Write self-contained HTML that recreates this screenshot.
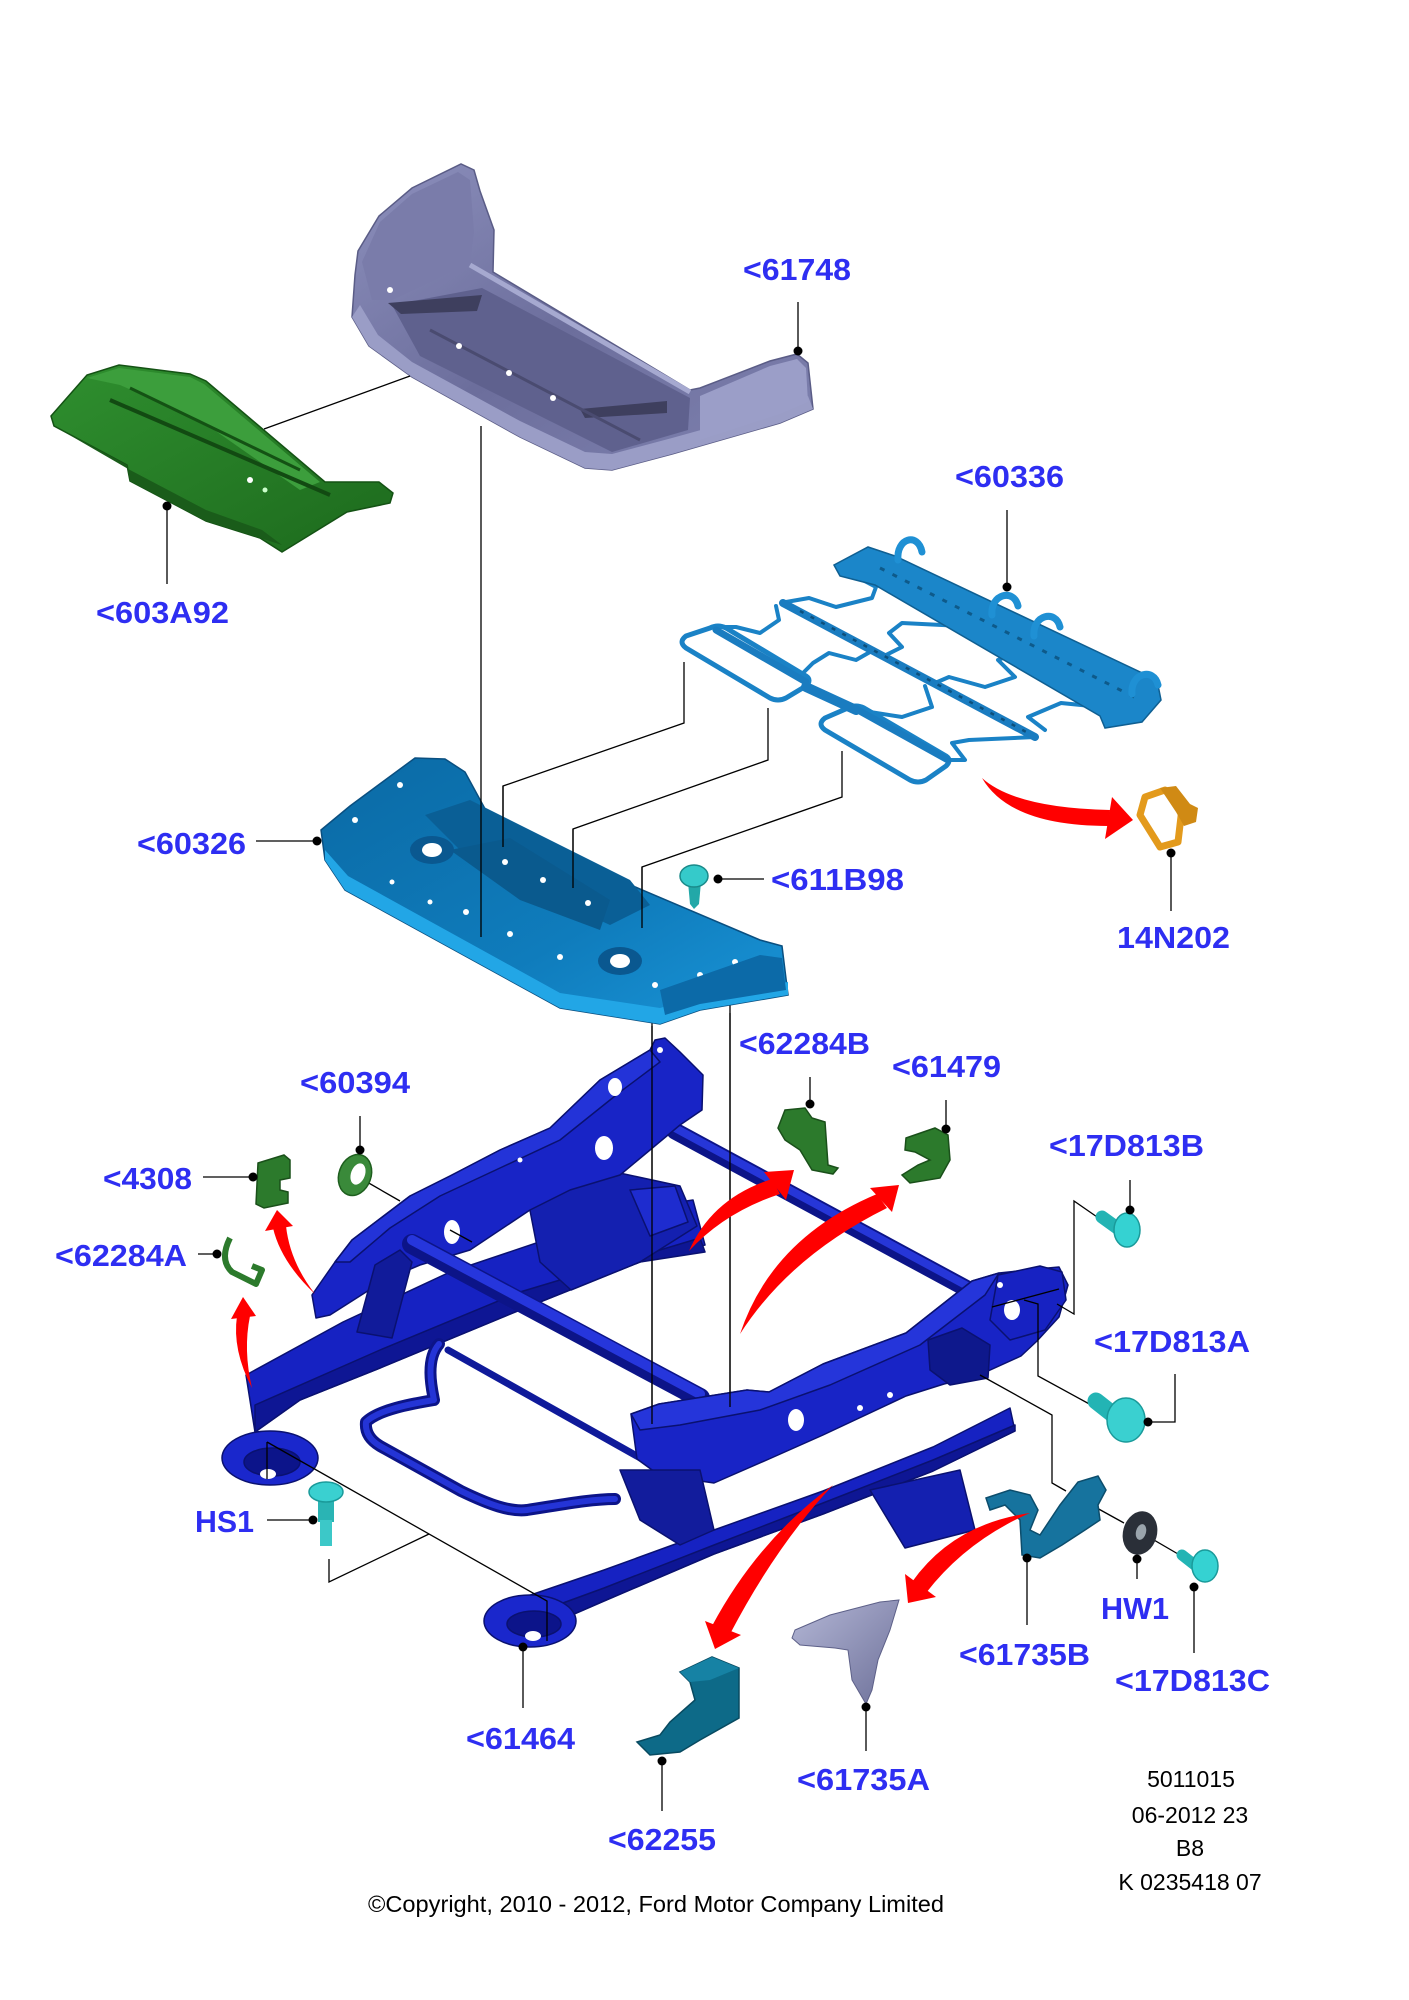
<!DOCTYPE html>
<html>
<head>
<meta charset="utf-8">
<style>
html,body{margin:0;padding:0;background:#fff;}
svg{display:block;}
.lb{font-family:"Liberation Sans",Arial,sans-serif;font-weight:bold;font-size:31px;fill:#2e2ef2;}
.tx{font-family:"Liberation Sans",Arial,sans-serif;font-size:23px;fill:#000;}
.ln{stroke:#000;stroke-width:1.3;fill:none;}
</style>
</head>
<body>
<svg width="1409" height="2000" viewBox="0 0 1409 2000" xmlns="http://www.w3.org/2000/svg">
<defs>
<linearGradient id="cush" x1="0" y1="0" x2="1" y2="1">
<stop offset="0" stop-color="#8d90bd"/><stop offset="0.5" stop-color="#6c6e9c"/><stop offset="1" stop-color="#7f82b0"/>
</linearGradient>
<linearGradient id="pan" x1="0" y1="0" x2="1" y2="1">
<stop offset="0" stop-color="#0b6aa5"/><stop offset="0.6" stop-color="#0f7cbc"/><stop offset="1" stop-color="#1a95d8"/>
</linearGradient>
<linearGradient id="grn" x1="0" y1="0" x2="1" y2="1">
<stop offset="0" stop-color="#2f8f2f"/><stop offset="1" stop-color="#1d6a1d"/>
</linearGradient>
<linearGradient id="gry" x1="0" y1="0" x2="1" y2="1">
<stop offset="0" stop-color="#b4b7d6"/><stop offset="1" stop-color="#6d7099"/>
</linearGradient>
</defs>
<rect width="1409" height="2000" fill="#fff"/>

<!-- ===== Seat cushion 61748 ===== -->
<polygon fill="url(#cush)" stroke="#5a5c86" stroke-width="1.5" points="355,275 358,251 379,216 412,188 461,164 474,170 480,191 494,230 493,272 690,390 700,388 770,361 797,354 808,363 813,409 780,423 672,454 612,470 585,468 520,437 412,377 369,346 352,317"/>
<polygon fill="#7a7caa" points="362,262 380,222 412,194 458,172 470,180 474,232 470,262 430,282 392,300 372,300"/>
<polygon fill="#5f618e" points="392,305 482,288 690,398 688,430 612,452 420,356"/>
<polygon fill="#9a9dc6" points="352,317 369,346 412,377 520,437 585,468 612,470 672,454 780,423 813,409 808,396 780,408 672,438 612,454 585,452 520,421 412,362 378,335 360,305"/>
<polygon fill="#9b9ec8" points="700,396 770,366 797,359 806,368 808,402 780,414 700,440"/>
<polygon fill="#3e3f5e" points="388,303 482,295 477,311 401,314"/>
<polygon fill="#3e3f5e" points="580,409 667,401 667,413 585,418"/>
<line x1="470" y1="265" x2="690" y2="392" stroke="#a6a9d0" stroke-width="5"/>
<line x1="430" y1="330" x2="640" y2="440" stroke="#4a4b70" stroke-width="3"/>
<circle cx="459" cy="346" r="3" fill="#fff"/><circle cx="509" cy="373" r="3" fill="#fff"/><circle cx="553" cy="398" r="3" fill="#fff"/><circle cx="390" cy="290" r="3" fill="#fff"/>

<!-- ===== Green 603A92 ===== -->
<polygon fill="url(#grn)" stroke="#145214" stroke-width="1.5" points="51,416 87,375 119,365 190,374 206,381 325,482 379,482 393,493 390,503 347,512 282,552 260,538 206,521 130,481 127,465 54,426"/>
<polygon fill="#3c9e3c" points="87,378 119,368 190,377 204,384 320,482 300,490 200,420 120,385"/>
<polygon fill="#1a5c1a" points="54,426 130,470 206,510 262,530 282,545 260,538 206,521 130,481 127,465"/>
<line x1="110" y1="400" x2="330" y2="495" stroke="#124a12" stroke-width="4"/>
<line x1="130" y1="388" x2="300" y2="470" stroke="#145214" stroke-width="3"/>
<circle cx="250" cy="480" r="3" fill="#fff"/><circle cx="265" cy="490" r="2.5" fill="#cfc"/>

<!-- ===== Leader lines top ===== -->
<line class="ln" x1="798" y1="302" x2="798" y2="351"/><circle cx="798" cy="351" r="4.5"/>
<line class="ln" x1="264" y1="429" x2="410" y2="376"/>
<line class="ln" x1="167" y1="506" x2="167" y2="584"/><circle cx="167" cy="506" r="4.5"/>
<line class="ln" x1="1007" y1="510" x2="1007" y2="587"/><circle cx="1007" cy="587" r="4.5"/>
<polyline class="ln" points="684,662 684,723 503,786 503,847"/>
<polyline class="ln" points="768,708 768,760 573,829 573,888"/>
<polyline class="ln" points="842,751 842,797 642,867 642,928"/>
<polyline class="ln" points="696,914 696,967 652,977 652,1424"/>
<line class="ln" x1="730" y1="1000" x2="730" y2="1407"/>

<!-- ===== Mesh 60336 ===== -->
<g fill="none" stroke="#1a82c6" stroke-width="4" stroke-linejoin="round" stroke-linecap="round">
<polyline points="859,578 876,587 872,598 836,607 809,598 786,602"/>
<polyline points="776,606 779,620 760,633 736,627 720,627"/>
<polyline points="982,627 902,623 889,633 902,647 882,657"/>
<polyline points="1015,653 998,660 1015,677 985,687 949,677 935,683"/>
<polyline points="800,676 813,663 829,653 856,660 870,652"/>
<polyline points="925,686 932,707 902,717 870,712"/>
<polyline points="1101,707 1061,703 1028,717 1045,730"/>
<polyline points="1035,737 969,740 952,743 965,760 949,760"/>
<path d="M686,636 Q678,642 686,648 L770,698 Q778,702 786,698 L806,686 Q812,680 806,676 L726,628 Q718,624 710,628 Z" stroke-width="5"/>
<path d="M825,718 Q817,724 825,730 L910,780 Q918,784 926,780 L946,766 Q952,760 946,756 L864,708 Q856,704 848,708 Z" stroke-width="5"/>
</g>
<g stroke="#1a7cc0" stroke-linecap="round">
<line x1="783" y1="603" x2="1035" y2="737" stroke-width="8"/>
<line x1="716" y1="630" x2="806" y2="682" stroke-width="7"/>
<line x1="856" y1="709" x2="948" y2="760" stroke-width="7"/>
<line x1="806" y1="687" x2="856" y2="710" stroke-width="10"/>
</g>
<polygon fill="#1b86c9" stroke="#0f5f92" stroke-width="1.5" points="834,565 868,547 895,556 1157,680 1161,700 1142,722 1105,728 1100,716 875,585 840,576"/>
<line x1="880" y1="568" x2="1140" y2="700" stroke="#0e5a8a" stroke-width="3" stroke-dasharray="5,9"/>
<line x1="800" y1="611" x2="1030" y2="734" stroke="#0c4f7c" stroke-width="2.5" stroke-dasharray="4,8"/>
<g fill="none" stroke="#1f90d4" stroke-width="7" stroke-linecap="round">
<path d="M898,560 C896,538 918,532 922,552"/>
<path d="M992,615 C990,594 1014,588 1018,606"/>
<path d="M1034,636 C1032,615 1056,609 1060,627"/>
<path d="M1132,694 C1130,673 1154,667 1158,685"/>
</g>

<!-- ===== 14N202 clip ===== -->
<g fill="none" stroke="#e39a1c" stroke-width="7" stroke-linejoin="round">
<path d="M1145,797 L1165,790 L1182,808 L1178,842 L1160,847 L1140,815 Z"/>
</g>
<polygon fill="#d08a14" points="1160,788 1176,786 1190,804 1198,808 1196,822 1184,826 1176,812"/>
<line class="ln" x1="1171" y1="853" x2="1171" y2="911"/><circle cx="1171" cy="853" r="4.5"/>

<!-- ===== Pan 60326 ===== -->
<polygon fill="url(#pan)" stroke="#0a4f80" stroke-width="1.5" points="321,830 350,806 415,758 445,759 465,772 490,818 520,838 760,940 782,946 788,995 700,1010 660,1024 560,1008 345,890 325,860"/>
<polygon fill="#22a6e6" points="345,890 560,1008 660,1024 700,1010 788,995 788,982 700,996 660,1008 560,993 348,876 325,850 325,860"/>
<polygon fill="#0a5f96" points="425,815 470,800 630,880 650,905 610,925 470,860"/>
<polygon fill="#0a5a8e" points="450,850 510,838 610,900 600,930 520,900"/>
<ellipse cx="432" cy="850" rx="22" ry="14" fill="#0a5890"/><ellipse cx="432" cy="850" rx="10" ry="7" fill="#fff"/>
<ellipse cx="620" cy="961" rx="22" ry="14" fill="#0a5890"/><ellipse cx="620" cy="961" rx="10" ry="7" fill="#fff"/>
<g fill="#fff">
<circle cx="400" cy="785" r="3"/><circle cx="355" cy="820" r="3"/><circle cx="505" cy="862" r="3"/><circle cx="543" cy="880" r="3"/><circle cx="588" cy="903" r="3"/><circle cx="466" cy="912" r="3"/><circle cx="510" cy="934" r="3"/><circle cx="560" cy="957" r="3"/><circle cx="655" cy="985" r="3"/><circle cx="700" cy="975" r="3"/><circle cx="735" cy="962" r="3"/><circle cx="392" cy="882" r="2.5"/><circle cx="430" cy="902" r="2.5"/>
</g>
<polygon fill="#0c6aa8" points="660,990 760,955 782,958 786,990 700,1004 665,1015"/>

<!-- lines over pan -->
<line class="ln" x1="481" y1="426" x2="481" y2="937"/>
<line class="ln" x1="503" y1="786" x2="503" y2="847"/>
<line class="ln" x1="573" y1="829" x2="573" y2="888"/>
<line class="ln" x1="642" y1="867" x2="642" y2="928"/>
<line class="ln" x1="256" y1="841" x2="317" y2="841"/><circle cx="317" cy="841" r="4.5"/>

<!-- 611B98 screw -->
<polygon fill="#22a8a8" points="688,882 701,882 699,904 694,909 690,904"/>
<ellipse cx="694" cy="876" rx="14" ry="11" fill="#35caca" stroke="#1a8a8a" stroke-width="1.5"/>
<line class="ln" x1="718" y1="879" x2="764" y2="879"/><circle cx="718" cy="879" r="4.5"/>

<!-- ===== Seat frame ===== -->
<g stroke="#0a1170" stroke-width="1.5" stroke-linejoin="round">
<!-- left rail -->
<polygon fill="#1622c2" points="246,1375 343,1322 450,1272 557,1236 640,1208 693,1200 705,1245 640,1262 520,1310 380,1368 300,1400 255,1432"/>
<polygon fill="#0e1694" points="255,1405 380,1350 520,1292 700,1238 705,1252 640,1262 520,1310 380,1368 300,1400 255,1432"/>
<!-- left foot -->
<ellipse cx="270" cy="1458" rx="48" ry="27" fill="#1a27cc"/>
<ellipse cx="272" cy="1462" rx="28" ry="14" fill="#0c148a"/>
<ellipse cx="268" cy="1474" rx="8" ry="5" fill="#fff" stroke="none"/>
<!-- rear support -->
<polygon fill="#1420b0" points="527,1195 615,1172 680,1186 697,1226 640,1262 571,1290 540,1262"/>
<polygon fill="#1e2ccf" points="630,1190 675,1186 688,1222 650,1236"/>
<!-- back tube -->
<line x1="675" y1="1131" x2="984" y2="1298" stroke="#0c1488" stroke-width="17" stroke-linecap="round"/>
<line x1="675" y1="1128" x2="984" y2="1295" stroke="#2636d8" stroke-width="8" stroke-linecap="round"/>
</g>
<!-- wire loop -->
<g fill="none" stroke-linecap="round" stroke-linejoin="round">
<path d="M439,1344 C425,1360 432,1390 434,1400 C410,1404 378,1410 366,1422 C365,1432 370,1440 380,1446 L461,1491 C490,1505 510,1512 527,1510 C560,1505 590,1499 615,1499" stroke="#0c1488" stroke-width="12"/>
<path d="M439,1344 C425,1360 432,1390 434,1400 C410,1404 378,1410 366,1422 C365,1432 370,1440 380,1446 L461,1491 C490,1505 510,1512 527,1510 C560,1505 590,1499 615,1499" stroke="#2434d6" stroke-width="6"/>
<line x1="448" y1="1350" x2="692" y2="1487" stroke="#0f1a9a" stroke-width="7"/>
</g>
<g stroke="#0a1170" stroke-width="1.5" stroke-linejoin="round">
<!-- left side member -->
<polygon fill="#1824c6" points="316,1318 312,1295 335,1262 352,1240 410,1196 450,1176 500,1150 550,1128 600,1080 630,1062 650,1050 655,1040 665,1038 680,1052 703,1075 702,1110 680,1125 650,1150 620,1175 570,1190 530,1210 470,1250 420,1265 385,1280 330,1315"/>
<polygon fill="#2333d8" points="335,1262 352,1240 410,1196 450,1176 500,1150 550,1128 600,1080 630,1062 650,1050 660,1062 620,1092 560,1140 500,1168 440,1196 390,1228 350,1262"/>
<polygon fill="#111b9a" points="357,1332 375,1265 400,1250 412,1262 392,1338"/>
<!-- front tube -->
<line x1="412" y1="1244" x2="700" y2="1398" stroke="#0c1488" stroke-width="20" stroke-linecap="round"/>
<line x1="412" y1="1240" x2="700" y2="1394" stroke="#2636dc" stroke-width="10" stroke-linecap="round"/>
<!-- right rail -->
<polygon fill="#1622c2" points="516,1600 604,1570 714,1530 823,1491 933,1447 1010,1408 1015,1431 933,1471 823,1514 714,1554 604,1601 549,1625"/>
<polygon fill="#0e1694" points="530,1615 604,1588 714,1545 823,1503 933,1460 1015,1425 1015,1431 933,1471 823,1514 714,1554 604,1601 549,1625"/>
<polygon fill="#1420b0" points="870,1490 960,1470 975,1530 905,1548"/>
<!-- right foot -->
<ellipse cx="530" cy="1621" rx="46" ry="26" fill="#1a27cc"/>
<ellipse cx="534" cy="1624" rx="27" ry="13" fill="#0c148a"/>
<ellipse cx="533" cy="1636" rx="8" ry="5" fill="#fff" stroke="none"/>
<!-- right side member -->
<polygon fill="#1824c6" points="631,1414 659,1404 747,1390 769,1392 823,1364 906,1333 972,1281 999,1273 1037,1269 1059,1267 1068,1285 1059,1317 1037,1341 1021,1356 977,1376 944,1384 906,1396 823,1435 769,1459 714,1483 659,1475 637,1459"/>
<polygon fill="#2535da" points="631,1414 659,1404 747,1390 769,1392 823,1364 906,1333 972,1281 999,1273 985,1295 920,1345 830,1385 760,1410 680,1425 640,1430"/>
<polygon fill="#121c9c" points="620,1470 700,1470 714,1530 680,1545 640,1520"/>
<polygon fill="#0e188c" points="928,1340 962,1328 990,1345 988,1378 950,1385 930,1370"/>
<polygon fill="#1722c2" points="998,1275 1040,1266 1062,1272 1066,1300 1045,1330 1010,1340 990,1320"/>
</g>
<g fill="#fff">
<ellipse cx="615" cy="1087" rx="7" ry="9"/><ellipse cx="604" cy="1148" rx="9" ry="12"/><ellipse cx="452" cy="1232" rx="8" ry="12"/>
<ellipse cx="796" cy="1420" rx="8" ry="11"/><ellipse cx="1012" cy="1310" rx="8" ry="10"/>
<circle cx="660" cy="1050" r="3"/><circle cx="1000" cy="1285" r="3"/><circle cx="860" cy="1408" r="3"/><circle cx="890" cy="1395" r="3"/><circle cx="520" cy="1160" r="2.5"/>
</g>

<!-- lines over frame -->
<line class="ln" x1="652" y1="1026" x2="652" y2="1424"/>
<line class="ln" x1="730" y1="1013" x2="730" y2="1407"/>
<line class="ln" x1="360" y1="1178" x2="400" y2="1201"/>
<line class="ln" x1="450" y1="1230" x2="472" y2="1242"/>
<polyline class="ln" points="1100,1219 1074,1201 1074,1314 1057,1304"/>
<line class="ln" x1="1059" y1="1289" x2="992" y2="1307"/>
<polyline class="ln" points="1093,1406 1038,1376 1038,1304 1024,1300"/>
<polyline class="ln" points="980,1375 1052,1415 1052,1483 1066,1491"/>
<line class="ln" x1="1086" y1="1502" x2="1124" y2="1523"/>
<line class="ln" x1="1142" y1="1533" x2="1178" y2="1554"/>
<line class="ln" x1="267" y1="1442" x2="267" y2="1479"/>
<polyline class="ln" points="267,1442 547,1601 547,1641"/>
<polyline class="ln" points="329,1559 329,1582 429,1534"/>

<!-- ===== Small parts ===== -->
<!-- 60394 ring -->
<ellipse cx="355" cy="1175" rx="16" ry="21" transform="rotate(20 355 1175)" fill="#3a8a3a" stroke="#1e5e1e" stroke-width="1.5"/>
<ellipse cx="358" cy="1174" rx="7" ry="11" transform="rotate(20 358 1174)" fill="#fff"/>
<line class="ln" x1="360" y1="1116" x2="360" y2="1150"/><circle cx="360" cy="1150" r="4.5"/>
<!-- 4308 -->
<polygon fill="#2c7a2c" stroke="#1a501a" stroke-width="1.5" points="258,1163 284,1155 290,1160 290,1178 280,1180 280,1190 288,1192 288,1203 264,1208 256,1204"/>
<line class="ln" x1="203" y1="1177" x2="253" y2="1177"/><circle cx="253" cy="1177" r="4.5"/>
<!-- 62284A -->
<path d="M230,1238 Q219,1260 232,1272 L256,1284 L262,1270 L252,1266" fill="none" stroke="#2c7a2c" stroke-width="6" stroke-linejoin="round"/>
<line class="ln" x1="198" y1="1254" x2="217" y2="1254"/><circle cx="217" cy="1254" r="4.5"/>
<!-- 62284B -->
<polygon fill="#2c7a2c" stroke="#1a501a" stroke-width="1.5" points="785,1110 805,1108 812,1118 825,1122 828,1165 838,1168 833,1174 812,1170 800,1150 785,1140 778,1128"/>
<line class="ln" x1="810" y1="1077" x2="810" y2="1104"/><circle cx="810" cy="1104" r="4.5"/>
<!-- 61479 -->
<polygon fill="#2c7a2c" stroke="#1a501a" stroke-width="1.5" points="906,1138 935,1128 948,1135 950,1160 940,1178 910,1183 902,1175 918,1165 930,1160 915,1152 905,1150"/>
<line class="ln" x1="946" y1="1100" x2="946" y2="1129"/><circle cx="946" cy="1129" r="4.5"/>
<!-- 17D813B -->
<line x1="1102" y1="1217" x2="1120" y2="1230" stroke="#23b4b4" stroke-width="13" stroke-linecap="round"/>
<ellipse cx="1127" cy="1230" rx="13" ry="17" fill="#35d2d2" stroke="#1a9a9a" stroke-width="1.5"/>
<line class="ln" x1="1130" y1="1180" x2="1130" y2="1210"/><circle cx="1130" cy="1210" r="4.5"/>
<!-- 17D813A -->
<line x1="1096" y1="1401" x2="1115" y2="1416" stroke="#23b4b4" stroke-width="17" stroke-linecap="round"/>
<ellipse cx="1126" cy="1420" rx="19" ry="22" fill="#3ad0d0" stroke="#1a9a9a" stroke-width="1.5"/>
<polyline class="ln" points="1148,1422 1175,1422 1175,1374"/><circle cx="1148" cy="1422" r="4.5"/>
<!-- 61735B -->
<polygon fill="#16739e" stroke="#0c4d6c" stroke-width="1.5" points="986,1498 1010,1490 1030,1495 1038,1510 1030,1530 1040,1535 1060,1505 1078,1482 1098,1476 1106,1490 1098,1505 1100,1520 1085,1530 1062,1545 1040,1558 1022,1555 1020,1520 1005,1505 990,1510"/>
<line class="ln" x1="1027" y1="1558" x2="1027" y2="1625"/><circle cx="1027" cy="1558" r="4.5"/>
<!-- HW1 washer -->
<ellipse cx="1140" cy="1533" rx="17" ry="22" transform="rotate(15 1140 1533)" fill="#2a2f38"/>
<ellipse cx="1141" cy="1532" rx="5" ry="8" transform="rotate(15 1141 1532)" fill="#9aa4ac"/>
<line class="ln" x1="1137" y1="1559" x2="1137" y2="1579"/><circle cx="1137" cy="1559" r="4.5"/>
<!-- 17D813C -->
<line x1="1182" y1="1555" x2="1196" y2="1566" stroke="#23b4b4" stroke-width="11" stroke-linecap="round"/>
<ellipse cx="1205" cy="1566" rx="13" ry="16" fill="#35d2d2" stroke="#1a9a9a" stroke-width="1.5"/>
<line class="ln" x1="1194" y1="1587" x2="1194" y2="1653"/><circle cx="1194" cy="1587" r="4.5"/>
<!-- HS1 screw -->
<rect x="318" y="1494" width="16" height="28" fill="#2ab4b4"/>
<rect x="320" y="1520" width="12" height="26" fill="#3cc8c8"/>
<ellipse cx="326" cy="1492" rx="17" ry="10" fill="#3ad0d0" stroke="#1a9a9a" stroke-width="1.5"/>
<line class="ln" x1="267" y1="1520" x2="313" y2="1520"/><circle cx="313" cy="1520" r="4.5"/>
<!-- 61735A -->
<polygon fill="url(#gry)" stroke="#5d6088" stroke-width="1" points="795,1630 830,1615 880,1602 899,1600 890,1630 878,1660 872,1690 866,1704 852,1680 848,1650 835,1648 800,1645 792,1638"/>
<line class="ln" x1="866" y1="1707" x2="866" y2="1751"/><circle cx="866" cy="1707" r="4.5"/>
<!-- 62255 -->
<polygon fill="#0d6a88" stroke="#084a60" stroke-width="1.5" points="680,1672 712,1657 739,1668 739,1718 700,1740 680,1752 650,1755 637,1742 660,1735 670,1722 695,1700 690,1682"/>
<polygon fill="#1682a4" points="680,1672 712,1657 739,1668 710,1680 690,1682"/>
<line class="ln" x1="662" y1="1761" x2="662" y2="1811"/><circle cx="662" cy="1761" r="4.5"/>
<!-- 61464 -->
<line class="ln" x1="523" y1="1647" x2="523" y2="1708"/><circle cx="523" cy="1647" r="4.5"/>

<!-- ===== Red arrows ===== -->
<g fill="#f00">
<path d="M982,778 Q1015,808 1110,810 L1108,826 Q1010,826 982,778 Z"/><path d="M1112,797 L1133,820 L1105,839 Z"/>
<path d="M315,1294 Q281,1262 273,1228 L286,1226 Q290,1262 315,1294 Z"/><path d="M265,1231 L277,1210 L293,1226 Z"/>
<path d="M252,1388 Q232,1350 237,1316 L250,1316 Q243,1350 252,1388 Z"/><path d="M231,1319 L243,1297 L256,1316 Z"/>
<path d="M689,1251 Q712,1198 772,1179 L780,1194 Q725,1212 689,1251 Z"/><path d="M764,1172 L794,1170 L786,1200 Z"/>
<path d="M740,1334 Q772,1238 877,1194 L887,1208 Q790,1256 740,1334 Z"/><path d="M870,1188 L899,1185 L892,1212 Z"/>
<path d="M833,1485 Q758,1540 712,1626 L730,1634 Q776,1546 833,1485 Z"/><path d="M705,1621 L715,1649 L741,1635 Z"/>
<path d="M1030,1513 Q953,1524 912,1582 L926,1593 Q966,1541 1030,1513 Z"/><path d="M905,1574 L908,1603 L936,1597 Z"/>
</g>

<!-- ===== Labels ===== -->
<text class="lb" x="743" y="280" textLength="108" lengthAdjust="spacingAndGlyphs">&lt;61748</text>
<text class="lb" x="96" y="623" textLength="133" lengthAdjust="spacingAndGlyphs">&lt;603A92</text>
<text class="lb" x="955" y="487" textLength="109" lengthAdjust="spacingAndGlyphs">&lt;60336</text>
<text class="lb" x="1117" y="948" textLength="113" lengthAdjust="spacingAndGlyphs">14N202</text>
<text class="lb" x="771" y="890" textLength="133" lengthAdjust="spacingAndGlyphs">&lt;611B98</text>
<text class="lb" x="137" y="854" textLength="109" lengthAdjust="spacingAndGlyphs">&lt;60326</text>
<text class="lb" x="300" y="1093" textLength="110" lengthAdjust="spacingAndGlyphs">&lt;60394</text>
<text class="lb" x="103" y="1189" textLength="89" lengthAdjust="spacingAndGlyphs">&lt;4308</text>
<text class="lb" x="55" y="1266" textLength="132" lengthAdjust="spacingAndGlyphs">&lt;62284A</text>
<text class="lb" x="739" y="1054" textLength="131" lengthAdjust="spacingAndGlyphs">&lt;62284B</text>
<text class="lb" x="892" y="1077" textLength="109" lengthAdjust="spacingAndGlyphs">&lt;61479</text>
<text class="lb" x="1049" y="1156" textLength="155" lengthAdjust="spacingAndGlyphs">&lt;17D813B</text>
<text class="lb" x="1094" y="1352" textLength="156" lengthAdjust="spacingAndGlyphs">&lt;17D813A</text>
<text class="lb" x="195" y="1532" textLength="59" lengthAdjust="spacingAndGlyphs">HS1</text>
<text class="lb" x="1101" y="1619" textLength="68" lengthAdjust="spacingAndGlyphs">HW1</text>
<text class="lb" x="959" y="1665" textLength="131" lengthAdjust="spacingAndGlyphs">&lt;61735B</text>
<text class="lb" x="1115" y="1691" textLength="155" lengthAdjust="spacingAndGlyphs">&lt;17D813C</text>
<text class="lb" x="466" y="1749" textLength="109" lengthAdjust="spacingAndGlyphs">&lt;61464</text>
<text class="lb" x="797" y="1790" textLength="133" lengthAdjust="spacingAndGlyphs">&lt;61735A</text>
<text class="lb" x="608" y="1850" textLength="108" lengthAdjust="spacingAndGlyphs">&lt;62255</text>

<text class="tx" x="1191" y="1787" text-anchor="middle">5011015</text>
<text class="tx" x="1190" y="1823" text-anchor="middle">06-2012 23</text>
<text class="tx" x="1190" y="1856" text-anchor="middle">B8</text>
<text class="tx" x="1190" y="1890" text-anchor="middle">K 0235418 07</text>
<text class="tx" x="368" y="1912" font-size="22" textLength="576" lengthAdjust="spacingAndGlyphs">©Copyright, 2010 - 2012, Ford Motor Company Limited</text>
</svg>
</body>
</html>
